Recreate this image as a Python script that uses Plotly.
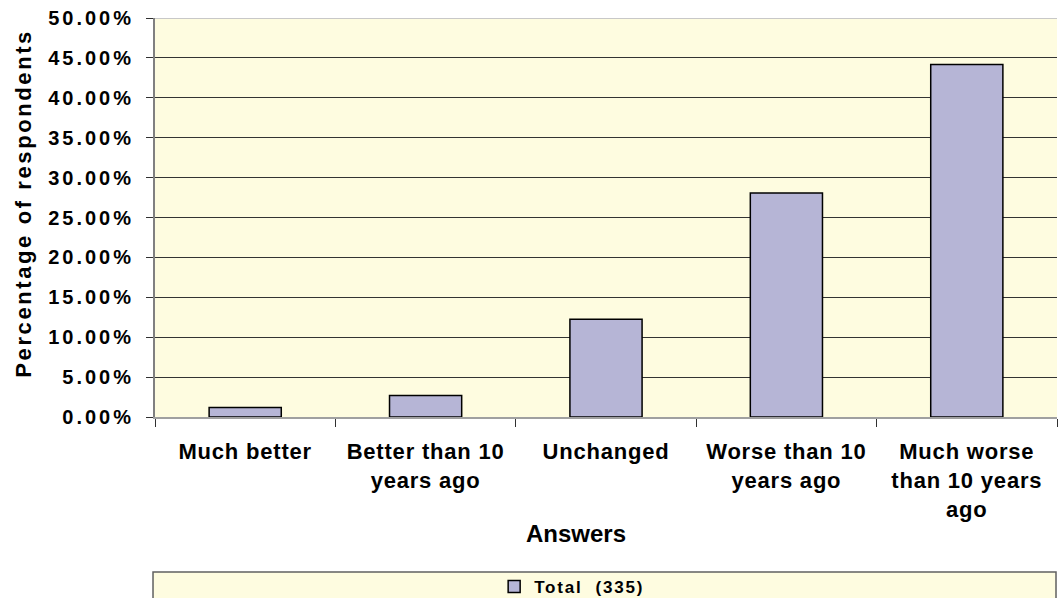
import plotly.graph_objects as go

categories = ["Much better", "Better than 10<br>years ago", "Unchanged",
              "Worse than 10<br>years ago", "Much worse<br>than 10 years<br>ago"]
values = [1.19, 2.69, 12.24, 28.06, 44.18]
series_name = "Total  (335)"
y_ticks = [0, 5, 10, 15, 20, 25, 30, 35, 40, 45, 50]
y_tick_labels = [f"{v:.2f}%" for v in y_ticks]
x_title = "Answers"
y_title = "Percentage of respondents"

FONT = "Liberation Sans, Arial, sans-serif"
BG = "#FEFCE0"

fig = go.Figure()
fig.add_trace(go.Bar(
    x=categories, y=values, name=series_name,
    marker=dict(color="#B6B5D6", line=dict(color="#000000", width=1.5)),
    width=0.4, showlegend=True,
))

fig.update_layout(
    width=1058, height=598,
    margin=dict(l=155, r=1, t=18, b=181, autoexpand=False),
    paper_bgcolor="white",
    plot_bgcolor=BG,
    font=dict(family=FONT, color="black", weight="bold"),
    showlegend=True,
    legend=dict(
        orientation="h", x=0.376, y=-0.381, xanchor="left", yanchor="top",
        bgcolor="rgba(0,0,0,0)", font=dict(size=17, family=FONT, weight="bold"),
        entrywidth=170, entrywidthmode="pixels",
    ),
    xaxis=dict(
        automargin=False,
        tickfont=dict(size=22, weight="bold"),
        showline=True, linecolor="#A0A0A0", linewidth=2,
        ticks="outside", tickson="boundaries", ticklen=8, tickcolor="#303030",
        ticklabelstandoff=14,
        showgrid=False,
    ),
    yaxis=dict(
        automargin=False,
        range=[0, 50],
        tickvals=y_ticks,
        ticktext=y_tick_labels,
        tickfont=dict(size=20, weight="bold"),
        showline=True, linecolor="#808080", linewidth=2,
        ticks="outside", ticklen=7, tickcolor="#303030",
        ticklabelstandoff=8,
        showgrid=True, gridcolor="#333333", gridwidth=1,
        zeroline=False,
    ),
    annotations=[
        dict(text=x_title, xref="paper", yref="paper", x=0.4667, y=-0.293,
             xanchor="center", yanchor="middle", showarrow=False,
             font=dict(size=24, family=FONT, weight="bold")),
        dict(text=y_title, xref="paper", yref="paper", x=-0.1463, y=0.536,
             xanchor="center", yanchor="middle", showarrow=False, textangle=-90,
             font=dict(size=22, family=FONT, weight="bold")),
    ],
    shapes=[
        dict(type="rect", xref="paper", yref="paper",
             x0=-0.0022, x1=0.9989, y0=-0.3885, y1=-0.47,
             line=dict(color="#606060", width=1.5), fillcolor=BG, layer="below"),
        dict(type="line", xref="paper", yref="y", x0=0, x1=1, y0=50, y1=50,
             line=dict(color="#C8C8C8", width=2), layer="above"),
    ],
)

post_js = """
document.body.style.margin = '0';
document.body.style.overflow = 'hidden';
var st = document.createElement('style');
st.textContent =
  'g.ytick text { letter-spacing: 3px !important; }' +
  'g.xtick text { letter-spacing: 0.8px !important; }' +
  'text.legendtext { letter-spacing: 1.8px !important; }' +
  'g.annotation[data-index="1"] text { letter-spacing: 2.6px !important; }';
document.head.appendChild(st);
"""

fig.write_html("out.html", post_script=post_js,
               config={"displayModeBar": False})
